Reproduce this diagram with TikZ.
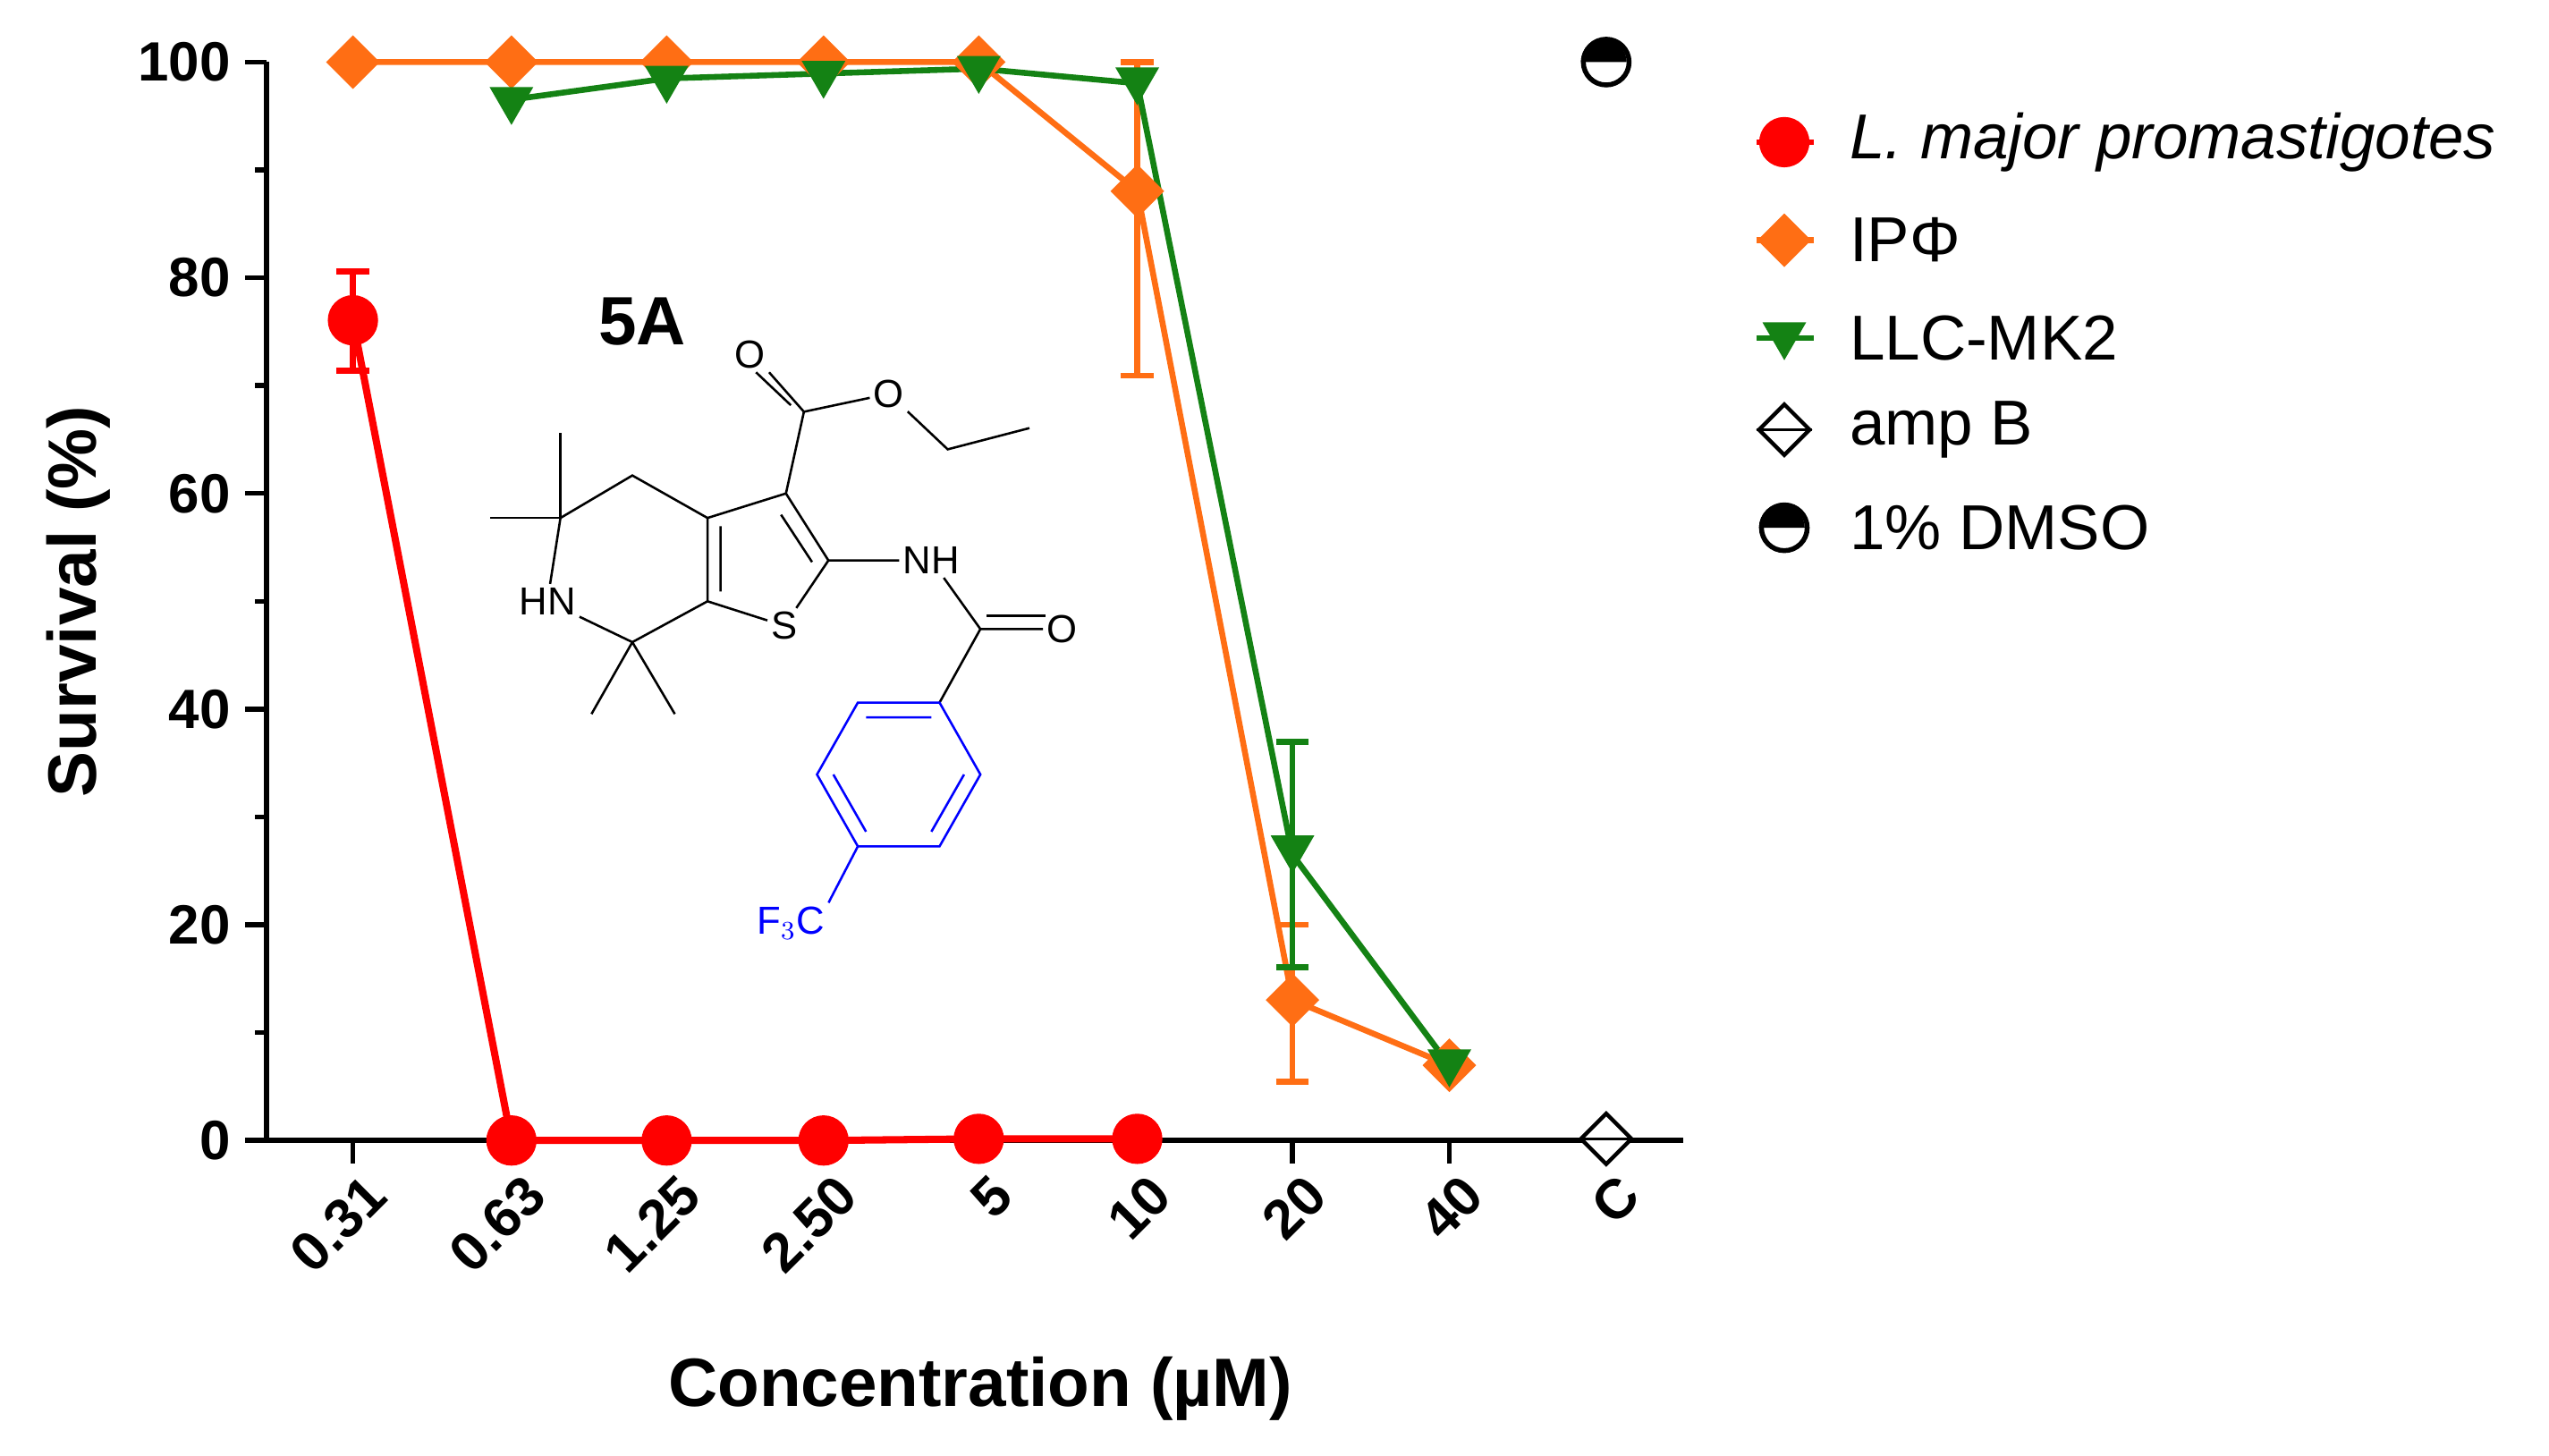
\documentclass[tikz,border=0pt]{standalone}
\usepackage{fontspec}
\setmainfont{Liberation Sans}
\usetikzlibrary{shapes.geometric}
\definecolor{cred}{RGB}{255,0,0}
\definecolor{corg}{RGB}{255,110,20}
\definecolor{cgrn}{RGB}{20,130,20}
\begin{document}
\begin{tikzpicture}[x=0.5bp,y=-0.5bp,
 tl/.style={font=\fontsize{17}{17}\selectfont\bfseries},
 ax/.style={line width=1.5bp},
 dl/.style={line width=1.8bp},
 rc/.style={circle,fill=cred,draw=cred,minimum size=15bp,inner sep=0},
 od/.style={diamond,fill=corg,draw=corg,minimum size=16bp,inner sep=0},
 gt/.style={isosceles triangle,shape border rotate=-90,isosceles triangle apex angle=60,fill=cgrn,draw=cgrn,minimum size=11bp,inner sep=0},
 mol/.style={line width=0.7bp},
 molb/.style={line width=0.7bp,draw=blue},
 mt/.style={font=\fontsize{12}{12}\selectfont,inner sep=1bp},
 lg/.style={font=\fontsize{19.5}{19.5}\selectfont,anchor=west}]
\useasboundingbox (0,0) rectangle (1560,891);
% axes
\draw[ax] (163,38) -- (163,698) -- (1030,698);
\foreach \v in {0,20,...,100}{\draw[ax] (150,698-6.6*\v) -- (163,698-6.6*\v);
 \node[tl,anchor=east] at (148,698-6.6*\v) {\v};}
\foreach \v in {10,30,...,90}{\draw[ax] (156,698-6.6*\v) -- (163,698-6.6*\v);}
\foreach \x/\l in {216/0.31,313/0.63,408/1.25,504/2.50,599/5,696/10,791/20,887/40,983/C}{
 \draw[ax] (\x,698) -- (\x,712);
 \node[tl,anchor=north east,rotate=45,inner sep=1bp] at (\x+6,714) {\l};}
\node[font=\fontsize{21}{21}\selectfont\bfseries,rotate=90] at (48,368) {Survival (\%)};
\node[font=\fontsize{21}{21}\selectfont\bfseries] at (600,850) {Concentration (\textmu M)};
% orange
\draw[corg,dl] (216,38) -- (313,38) -- (408,38) -- (504,38) -- (599,38) -- (696,117) -- (791,612) -- (887,652);
\draw[corg,dl] (696,38) -- (696,230) (686,230) -- (706,230) (686,38)--(706,38);
\draw[corg,dl] (791,566) -- (791,662) (781,566)--(801,566) (781,662)--(801,662);
% green
\draw[cgrn,dl] (313,61) -- (408,48) -- (504,45) -- (599,42) -- (696,51) -- (791,523) -- (887,652);
\draw[cgrn,dl] (791,454) -- (791,592) (781,454)--(801,454) (781,592)--(801,592);
% red
\draw[cred,line width=2.2bp] (216,196) -- (313,698) -- (408,698) -- (504,698) -- (599,697) -- (696,697);
\draw[cred,dl] (216,166) -- (216,227) (206,166)--(226,166) (206,227)--(226,227);
\foreach \x/\y[count=\i] in {216/38,313/38,408/38,504/38,599/38,696/117,791/612,887/652}{\node[od] (o\i) at (\x,\y) {};}
\foreach \x/\y[count=\i] in {313/61,408/48,504/45,599/42,696/49,791/519,887/650}{\node[gt] (g\i) at (\x,\y) {};}
\foreach \x/\y[count=\i] in {216/196,313/698,408/698,504/698,599/697,696/697}{\node[rc] (r\i) at (\x,\y) {};}
\node[diamond,draw,fill=white,line width=1.2bp,minimum size=16bp,inner sep=0] (amp) at (983,697) {};
\draw[line width=1bp] (amp.west) -- (amp.east);
\node[circle,draw,line width=1.5bp,minimum size=14bp,inner sep=0] (dm) at (983,38) {};
\fill (dm.west) arc[start angle=180,end angle=0,radius=7bp] -- cycle;
% legend
\draw[cred,dl] (1075,87) -- (1110,87); \node[rc] (l1) at (1092,87) {};
\node[lg] at (1125,87) {\itshape L. major promastigotes};
\draw[corg,dl] (1075,147) -- (1110,147); \node[od] (l2) at (1092,147) {};
\node[lg] at (1125,147) {IPΦ};
\draw[cgrn,dl] (1075,207) -- (1110,207); \node[gt] (l3) at (1092,205) {};
\node[lg] at (1125,207) {LLC-MK2};
\node[diamond,draw,line width=1.2bp,minimum size=16bp,inner sep=0] (l4) at (1092,263) {};
\draw[line width=1bp] (l4.west) -- (l4.east);
\node[lg] at (1125,263) {amp B};
\node[circle,draw,line width=1.5bp,minimum size=14bp,inner sep=0] (l5) at (1092,323) {};
\fill (l5.west) arc[start angle=180,end angle=0,radius=7bp] -- cycle;
\node[lg] at (1125,323) {1\% DMSO};
% molecule
\node[font=\fontsize{21}{21}\selectfont\bfseries] at (393,197) {5A};
\node[mt] (O1) at (459,217) {O};
\node[mt] (O2) at (544,241) {O};
\node[mt] (HN) at (335,368) {HN};
\node[mt] (S) at (480,383) {S};
\node[mt] (NH) at (570,343) {NH};
\node[mt] (O3) at (650,385) {O};
\node[mt,blue] (F) at (484,565) {F$_3$C};
\coordinate (Ce) at (492,252);
\draw[mol] (O1.south east) -- (Ce); \draw[mol] ([xshift=-4bp]O1.south east) -- ([xshift=-4bp,yshift=2bp]Ce);
\draw[mol] (Ce) -- (O2) -- (580,275) -- (630,262);
\draw[mol] (Ce) -- (481,302) -- (507,343) -- (S) -- (433,368) -- (433,317) -- (481,302);
\draw[mol] (478,315) -- (497,344) (441,322) -- (441,362);
\draw[mol] (433,317) -- (387,291) -- (343,317) -- (HN) (HN) -- (387,393) -- (433,368);
\draw[mol] (343,317) -- (343,265) (343,317) -- (300,317);
\draw[mol] (387,393) -- (362,437) (387,393) -- (413,437);
\draw[mol] (507,343) -- (NH) (NH) -- (600,385) -- (O3);
\draw[mol] (604,377) -- (640,377);
\draw[mol] (600,385) -- (575,430);
\draw[molb] (575,430) -- (600,474) -- (575,518) -- (525,518) -- (500,474) -- (525,430) -- cycle;
\draw[molb] (590,474) -- (570,509) (530,509) -- (510,474) (530,439) -- (570,439);
\draw[molb] (525,518) -- (F.north east);
\end{tikzpicture}
\end{document}
